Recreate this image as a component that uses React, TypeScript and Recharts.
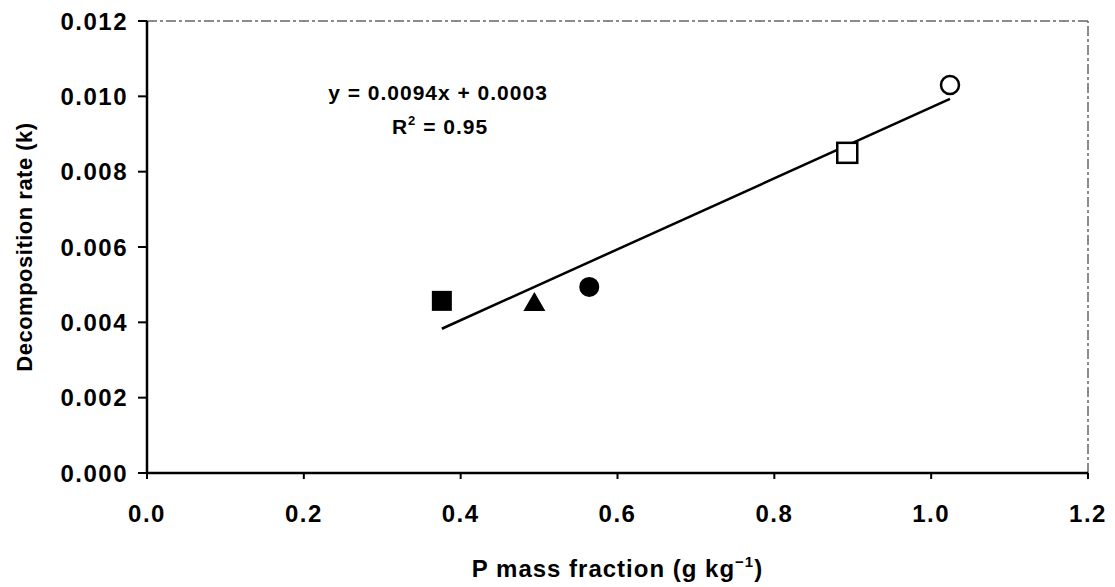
import {
  ReferenceLine,
  Scatter,
  ScatterChart,
  XAxis,
  YAxis,
} from "recharts";

// points (x = P mass fraction, y = k)
const filledSquare = [{ x: 0.376, y: 0.00457 }];
const filledTriangle = [{ x: 0.494, y: 0.00451 }];
const filledCircle = [{ x: 0.564, y: 0.00494 }];
const openSquare = [{ x: 0.893, y: 0.0085 }];
const openCircle = [{ x: 1.024, y: 0.0103 }];

// fitted line end points
const trend = [
  { x: 0.376, y: 0.00383 },
  { x: 1.024, y: 0.00993 },
];

const xTicks = [0, 0.2, 0.4, 0.6, 0.8, 1.0, 1.2];
const yTicks = [0, 0.002, 0.004, 0.006, 0.008, 0.01, 0.012];

const FONT = "Arial, 'Liberation Sans', Helvetica, sans-serif";
const tickStyle = { fill: "#000", fontSize: 24, fontFamily: FONT, fontWeight: "bold", letterSpacing: 1.5 };

const SquareShape = ({ cx, cy, open }: any) => (
  <rect
    x={cx - 10}
    y={cy - 10}
    width={20}
    height={20}
    fill={open ? "#fff" : "#000"}
    stroke="#000"
    strokeWidth={open ? 2.5 : 0}
  />
);

const CircleShape = ({ cx, cy, open }: any) => (
  <circle
    cx={cx}
    cy={cy}
    r={open ? 9 : 10}
    fill={open ? "#fff" : "#000"}
    stroke="#000"
    strokeWidth={open ? 2.5 : 0}
  />
);

const TriangleShape = ({ cx, cy }: any) => (
  <path d={`M${cx},${cy - 11} L${cx + 11},${cy + 8} L${cx - 11},${cy + 8} Z`} fill="#000" />
);

const XTitle = ({ viewBox }: any) => {
  const cx = viewBox.x + viewBox.width / 2;
  return (
    <text
      x={cx}
      y={viewBox.y + 104}
      textAnchor="middle"
      fontFamily={FONT}
      fontWeight="bold"
      fontSize={24}
      letterSpacing={1}
      fill="#000"
    >
      P mass fraction (g kg
      <tspan dy={-10} fontSize={15}>
        −1
      </tspan>
      <tspan dy={10}>)</tspan>
    </text>
  );
};

const YTitle = ({ viewBox }: any) => {
  const cy = viewBox.y + viewBox.height / 2;
  return (
    <text
      x={24}
      y={cy}
      transform={`rotate(-90 24 ${cy})`}
      textAnchor="middle"
      dominantBaseline="central"
      fontFamily={FONT}
      fontWeight="bold"
      fontSize={22}
      letterSpacing={0.5}
      fill="#000"
    >
      Decomposition rate (k)
    </text>
  );
};

export default function App() {
  return (
    <div style={{ position: "absolute", left: 0, top: 0, width: 1115, height: 587, background: "#fff" }}>
      <ScatterChart width={1115} height={587} margin={{ top: 21, right: 27, bottom: 0, left: 0 }}>
        <XAxis
          type="number"
          dataKey="x"
          domain={[0, 1.2]}
          ticks={xTicks}
          tickFormatter={(v: number) => v.toFixed(1)}
          tick={tickStyle}
          tickSize={6}
          tickMargin={26}
          height={114}
          axisLine={{ stroke: "#000", strokeWidth: 2.5 }}
          tickLine={{ stroke: "#000", strokeWidth: 2 }}
          label={<XTitle />}
        />
        <YAxis
          type="number"
          dataKey="y"
          domain={[0, 0.012]}
          ticks={yTicks}
          tickFormatter={(v: number) => v.toFixed(3)}
          tick={tickStyle}
          tickSize={9}
          tickMargin={10}
          width={147}
          axisLine={{ stroke: "#000", strokeWidth: 2.5 }}
          tickLine={{ stroke: "#000", strokeWidth: 2 }}
          label={<YTitle />}
        />
        <ReferenceLine y={0.012} stroke="#666" strokeWidth={1.5} strokeDasharray="10 3 3 3" />
        <ReferenceLine x={1.2} stroke="#666" strokeWidth={1.5} strokeDasharray="10 3 3 3" />
        <Scatter
          data={trend}
          line={{ stroke: "#000", strokeWidth: 2.5 }}
          shape={() => <g />}
          isAnimationActive={false}
        />
        <Scatter data={filledSquare} shape={<SquareShape />} isAnimationActive={false} />
        <Scatter data={filledTriangle} shape={<TriangleShape />} isAnimationActive={false} />
        <Scatter data={filledCircle} shape={<CircleShape />} isAnimationActive={false} />
        <Scatter data={openSquare} shape={<SquareShape open />} isAnimationActive={false} />
        <Scatter data={openCircle} shape={<CircleShape open />} isAnimationActive={false} />
      </ScatterChart>
      <svg
        width={1115}
        height={587}
        style={{ position: "absolute", left: 0, top: 0, pointerEvents: "none" }}
      >
        <text x={438} y={100} textAnchor="middle" fontFamily={FONT} fontWeight="bold" fontSize={21} letterSpacing={1} fill="#000">
          y = 0.0094x + 0.0003
        </text>
        <text x={440} y={134} textAnchor="middle" fontFamily={FONT} fontWeight="bold" fontSize={21} letterSpacing={1} fill="#000">
          R<tspan dy={-9} fontSize={13}>2</tspan>
          <tspan dy={9}> = 0.95</tspan>
        </text>
      </svg>
    </div>
  );
}
